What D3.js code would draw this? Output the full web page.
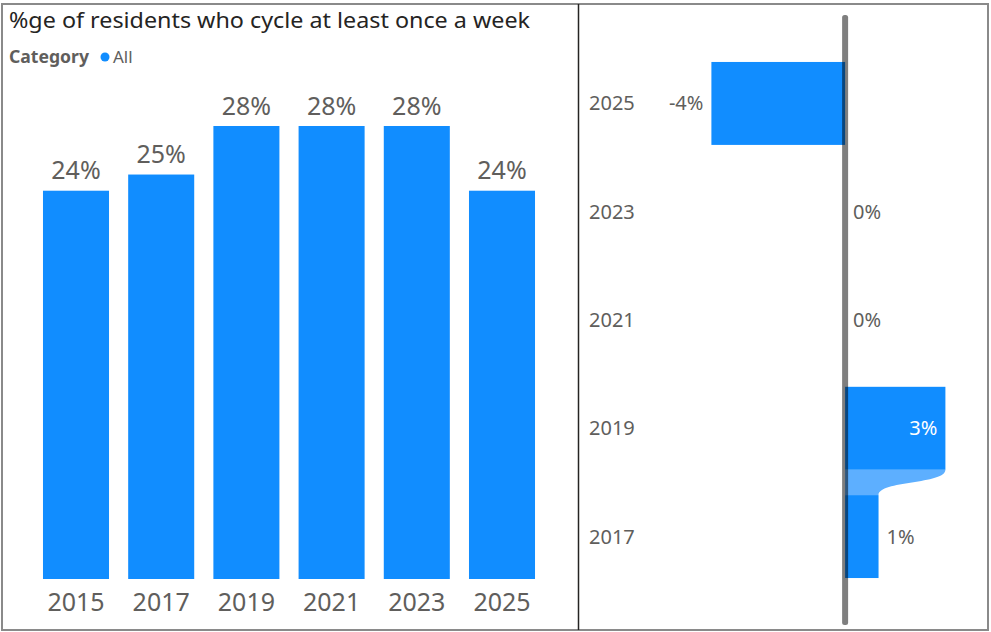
<!DOCTYPE html>
<html>
<head>
<meta charset="utf-8">
<script src="https://cdn.jsdelivr.net/npm/d3@7"></script>
<style>
  html, body { margin: 0; padding: 0; background: #ffffff; }
  svg { display: block; }
</style>
</head>
<body>
<svg id="chart" width="991" height="632"></svg>
<script>
// ---------- data ----------
const years = ["2015", "2017", "2019", "2021", "2023", "2025"];
const values = [24, 25, 28, 28, 28, 24];          // % of residents
const changeYears = ["2025", "2023", "2021", "2019", "2017"];
const changes = [-4, 0, 0, 3, 1];                 // change vs previous survey (pp)
const titleText = "%ge of residents who cycle at least once a week";
const legendTitle = "Category";
const legendItems = ["All"];

// ---------- styles ----------
const BLUE = "#118DFF";
const LIGHT = "#5DAFFF";
const TEXT = "#605E5C";
const FONT = "'Noto Sans', 'Open Sans', sans-serif";
const pct = v => d3.format(".0f")(v).replace("\u2212", "-") + "%";

const svg = d3.select("#chart");

// frame
svg.append("rect").attr("x", 2).attr("y", 4).attr("width", 986).attr("height", 626)
  .attr("fill", "none").attr("stroke", "#8a8a8a").attr("stroke-width", 2);
svg.append("line").attr("x1", 578.5).attr("x2", 578.5).attr("y1", 4).attr("y2", 630)
  .attr("stroke", "#252423").attr("stroke-width", 1.5);

// ---------- left panel ----------
svg.append("text").attr("x", 9).attr("y", 28)
  .attr("font-family", FONT).attr("font-size", 21).attr("fill", "#252423")
  .attr("textLength", 521).attr("lengthAdjust", "spacingAndGlyphs")
  .text(titleText);

svg.append("text").attr("x", 9).attr("y", 63)
  .attr("font-family", FONT).attr("font-size", 17).attr("font-weight", "bold").attr("fill", TEXT)
  .attr("textLength", 80).attr("lengthAdjust", "spacingAndGlyphs")
  .text(legendTitle);
const leg = svg.append("g").selectAll("g").data(legendItems).join("g");
leg.append("circle").attr("cx", 105).attr("cy", 57).attr("r", 4.5).attr("fill", BLUE);
leg.append("text").attr("x", 113).attr("y", 63)
  .attr("font-family", FONT).attr("font-size", 17).attr("fill", TEXT).text(d => d);

const x = d3.scaleBand().domain(years).range([33.4, 544.6]).paddingInner(0.225).paddingOuter(0.1125);
const y = d3.scaleLinear().domain([0, d3.max(values)]).range([579, 126]);

const data = years.map((yr, i) => ({ yr, v: values[i] }));
svg.append("g").selectAll("rect").data(data).join("rect")
  .attr("x", d => x(d.yr)).attr("width", x.bandwidth())
  .attr("y", d => y(d.v)).attr("height", d => y(0) - y(d.v))
  .attr("fill", BLUE);

svg.append("g").selectAll("text").data(data).join("text")
  .attr("x", d => x(d.yr) + x.bandwidth() / 2).attr("y", d => y(d.v) - 11.5)
  .attr("text-anchor", "middle").attr("font-family", FONT).attr("font-size", 25).attr("fill", TEXT)
  .text(d => pct(d.v));

const xAxis = svg.append("g").attr("transform", "translate(0,579)")
  .call(d3.axisBottom(x).tickSize(0).tickPadding(14));
xAxis.select(".domain").remove();
xAxis.selectAll("text").attr("font-family", FONT).attr("font-size", 25).attr("fill", TEXT);

// ---------- right panel ----------
const yr = d3.scaleBand().domain(changeYears).range([49.3, 590.7]).paddingInner(0.234).paddingOuter(0.117);
const xr = d3.scaleLinear().domain([-4, 3]).range([711.4, 945.4]);
const cdata = changeYears.map((yy, i) => ({ yy, v: changes[i] }));

// connectors (ribbons) between consecutive same-sign non-zero bars
const conn = svg.append("g");
for (let i = 0; i < cdata.length - 1; i++) {
  const a = cdata[i], b = cdata[i + 1];
  if (a.v !== 0 && b.v !== 0 && Math.sign(a.v) === Math.sign(b.v)) {
    const y0 = yr(a.yy) + yr.bandwidth();
    const y1 = yr(b.yy);
    const xa = xr(a.v), xb = xr(b.v), x0 = xr(0);
    const ym = (y0 + y1) / 2;
    const p = d3.path();
    p.moveTo(x0, y0);
    p.lineTo(xa, y0);
    p.bezierCurveTo(xa, ym + 2, xb, ym - 2, xb, y1);
    p.lineTo(x0, y1);
    p.closePath();
    conn.append("path").attr("d", p.toString()).attr("fill", LIGHT);
  }
}

svg.append("g").selectAll("rect").data(cdata.filter(d => d.v !== 0)).join("rect")
  .attr("x", d => Math.min(xr(0), xr(d.v))).attr("width", d => Math.abs(xr(d.v) - xr(0)))
  .attr("y", d => yr(d.yy)).attr("height", yr.bandwidth())
  .attr("fill", BLUE);

// zero line
svg.append("rect").attr("x", xr(0) - 3).attr("width", 6).attr("y", 15).attr("height", 610)
  .attr("rx", 2.5).attr("fill", "#000").attr("fill-opacity", 0.5);

// category labels
const yAxis = svg.append("g").attr("transform", "translate(589,0)")
  .call(d3.axisLeft(yr).tickSize(0).tickPadding(0));
yAxis.select(".domain").remove();
yAxis.selectAll("text").attr("text-anchor", "start").attr("dy", "0.35em")
  .attr("font-family", FONT).attr("font-size", 20).attr("fill", TEXT);

// value labels
svg.append("g").selectAll("text").data(cdata).join("text")
  .attr("y", d => yr(d.yy) + yr.bandwidth() / 2).attr("dy", "0.35em")
  .attr("font-family", FONT).attr("font-size", 20)
  .each(function (d) {
    const t = d3.select(this);
    const w = Math.abs(xr(d.v) - xr(0));
    if (d.v < 0) {
      t.attr("x", xr(d.v) - 8).attr("text-anchor", "end").attr("fill", TEXT);
    } else if (w > 60) {
      t.attr("x", xr(d.v) - 8).attr("text-anchor", "end").attr("fill", "#ffffff");
    } else {
      t.attr("x", xr(Math.max(d.v, 0)) + 8).attr("text-anchor", "start").attr("fill", TEXT);
    }
  })
  .text(d => pct(d.v));
</script>
</body>
</html>
